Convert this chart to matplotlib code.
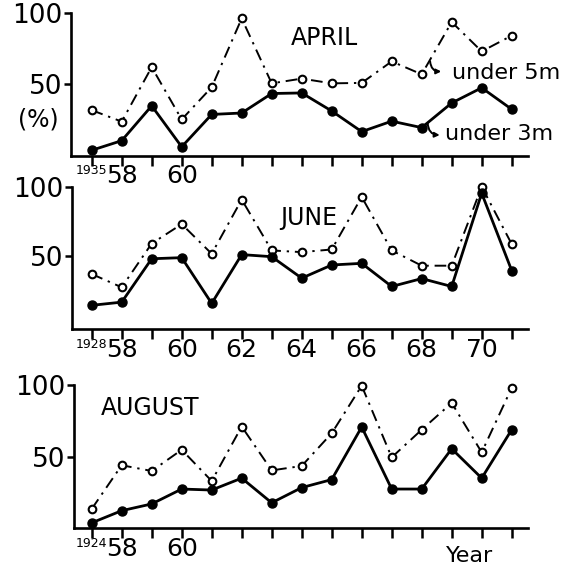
import matplotlib
matplotlib.use("Agg")
import matplotlib.pyplot as plt

W, H = 580, 570
DPI = 100

positions = list(range(15))

# Tick labels
april_ticks = ["1935", "58", "", "60", "", "", "", "", "", "", "", "", "", "", ""]
june_ticks = ["1928", "58", "", "60", "", "62", "", "64", "", "66", "", "68", "", "70", ""]
aug_ticks = ["1924", "58", "", "60", "", "", "", "", "", "", "", "", "", "", ""]

# APRIL (%)
april_5m = [32, 24, 62, 25.5, 48, 96, 50.7, 54, 50.7, 51, 66, 57, 93.5, 73, 84]
april_3m = [4, 10.7, 35, 6.4, 29, 30, 43.6, 44, 31.4, 17, 24.3, 19.8, 37, 47.6, 32.6]

# JUNE (%)
june_5m = [37, 27.4, 59, 73, 51.6, 90.7, 54, 52.8, 54.7, 92.6, 54, 43, 43, 100, 58.6]
june_3m = [14.4, 16.7, 48, 48.8, 15.8, 51, 49.5, 34, 43.5, 44.7, 28, 33.7, 28, 95.3, 39.5]

# AUGUST (%)
aug_5m = [13.5, 44, 40, 54.8, 33, 71, 40.4, 43.5, 66.3, 99.5, 49.5, 68.8, 87.5, 53, 98]
aug_3m = [3.8, 12.3, 17, 27.4, 26.7, 35, 17.8, 28.4, 34, 70.7, 27.4, 27.4, 55.5, 35, 68.8]

fig = plt.figure(figsize=(W / DPI, H / DPI), dpi=DPI)


def make_axes(left_px, top_px, bottom_px, right_px=528):
    return fig.add_axes([left_px / W, 1 - bottom_px / H,
                         (right_px - left_px) / W, (bottom_px - top_px) / H])


x0_px, dx_px = 91.7, 30.0


def style(ax, left_px, ticklabels, ymin):
    ax.set_xlim((left_px - x0_px) / dx_px, (528 - x0_px) / dx_px)
    ax.set_ylim(ymin, 100)
    for s in ["top", "right"]:
        ax.spines[s].set_visible(False)
    for s in ["left", "bottom"]:
        ax.spines[s].set_linewidth(1.9)
    ax.set_xticks(positions)
    ax.set_xticklabels(ticklabels)
    ax.set_yticks([50, 100])
    ax.set_yticklabels(["50", "100"])
    ax.tick_params(axis="x", direction="out", length=7, width=1.8, pad=-1, labelsize=18)
    ax.tick_params(axis="y", direction="out", length=5, width=1.8, pad=1, labelsize=19)
    tl = ax.get_xticklabels()[0]
    tl.set_fontsize(9)


def draw(ax, s5, s3):
    ax.plot(positions, s5, color="black", lw=1.4, linestyle=(0, (6, 3, 1.2, 3)),
            marker="o", markersize=5.5, markerfacecolor="white",
            markeredgecolor="black", markeredgewidth=1.5, clip_on=False, zorder=3)
    ax.plot(positions, s3, color="black", lw=2.0, linestyle="-",
            marker="o", markersize=6.5, markerfacecolor="black",
            markeredgecolor="black", clip_on=False, zorder=4)


def hook_arrow(ax, tail, head):
    ax.annotate("", xy=head, xytext=tail,
                arrowprops=dict(arrowstyle="-|>", color="black", lw=1.4,
                                connectionstyle="arc3,rad=0.45", shrinkA=0, shrinkB=0,
                                mutation_scale=7), annotation_clip=False)


ax1 = make_axes(70.7, 12.7, 156)
style(ax1, 70.7, april_ticks, 0)
draw(ax1, april_5m, april_3m)
ax1.text(0.555, 0.82, "APRIL", transform=ax1.transAxes, fontsize=17, ha="center", va="center")
hook_arrow(ax1, (11.28, 66), (11.65, 59))
ax1.text(12.0, 58, "under 5m", fontsize=16, va="center", ha="left")
hook_arrow(ax1, (11.2, 23), (11.6, 14.6))
ax1.text(11.78, 15.3, "under 3m", fontsize=16, va="center", ha="left")
fig.text(38 / W, 1 - 120 / H, "(%)", fontsize=17, ha="center", va="center")

ax2 = make_axes(71.7, 186.7, 329.3)
style(ax2, 71.7, june_ticks, -2.9)
draw(ax2, june_5m, june_3m)
ax2.text(0.52, 0.78, "JUNE", transform=ax2.transAxes, fontsize=17, ha="center", va="center")

ax3 = make_axes(74, 385, 528.3)
style(ax3, 74, aug_ticks, 0)
draw(ax3, aug_5m, aug_3m)
ax3.text(0.168, 0.84, "AUGUST", transform=ax3.transAxes, fontsize=17, ha="center", va="center")
ax3.set_xlabel("Year", fontsize=16)
ax3.xaxis.set_label_coords(0.872, -0.195)
ax3.xaxis.label.set_va("center")

fig.savefig("out.png", dpi=DPI, facecolor="white")
